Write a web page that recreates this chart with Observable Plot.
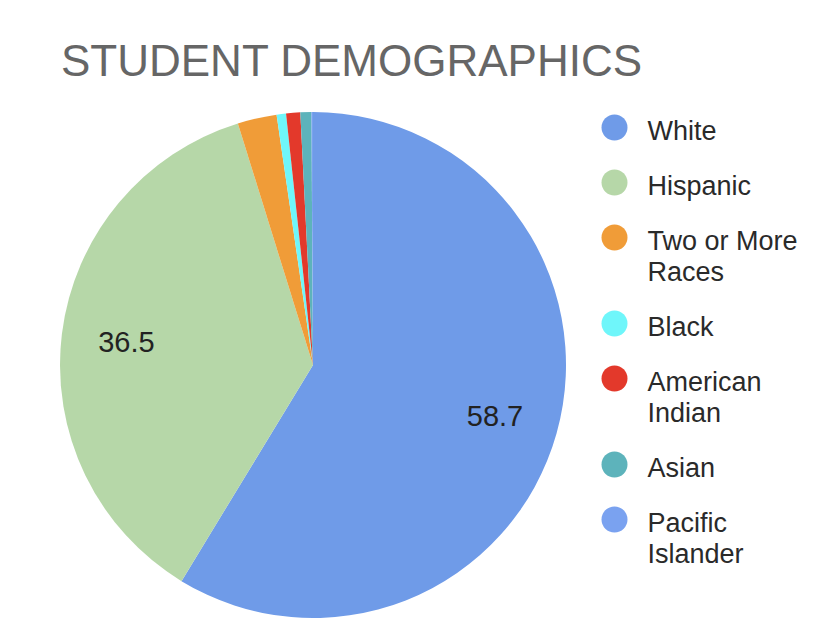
<!DOCTYPE html>
<html>
<head>
<meta charset="utf-8">
<script src="https://cdn.jsdelivr.net/npm/d3@7"></script>
<script src="https://cdn.jsdelivr.net/npm/@observablehq/plot@0.6"></script>
<style>
  html, body { margin: 0; padding: 0; background: #fff; }
  body { width: 828px; height: 636px; overflow: hidden; font-family: "Liberation Sans", Arial, sans-serif; }
  #title {
    height: 90px; box-sizing: border-box; padding-top: 39px; padding-left: 61px;
    font-size: 44px; line-height: 44px; color: #666; white-space: nowrap; overflow: visible;
  }
  #chart svg { display: block; }
</style>
</head>
<body>
<div id="title">STUDENT DEMOGRAPHICS</div>
<div id="chart"></div>
<script>
// ---- data ----
const categories = ["White", "Hispanic", "Two or More Races", "Black", "American Indian", "Asian", "Pacific Islander"];
const percents = [58.7, 36.5, 2.5, 0.6, 0.9, 0.7, 0.1];
const legendLabels = ["White", "Hispanic", "Two or More\nRaces", "Black", "American\nIndian", "Asian", "Pacific\nIslander"];
const colors = ["#6f9be8", "#b6d7a8", "#f09c38", "#6ff6fa", "#e3392b", "#5db3bb", "#7aa2f0"];

// ---- layout ----
const W = 828, H = 546;
const cx = 313, cy = 275, R = 253;
const labelRatio = 0.745;
const legendX = 614, legendTextX = 647, legendTop = 37;
const itemGap = 55, lineStep = 31;
const legendFont = 27;
const font = "'Liberation Sans', Arial, sans-serif";

const data = categories.map((c, i) => ({category: c, value: percents[i], legend: legendLabels[i]}));
const arcs = d3.pie().sort(null).value(d => d.value)(data);

// pie labels (only big slices)
const labelArc = d3.arc().innerRadius(R * labelRatio).outerRadius(R * labelRatio);
const labels = arcs.filter(a => a.data.value >= 5).map(a => {
  const [dx, dy] = labelArc.centroid(a);
  return {x: cx + dx, y: cy + dy, text: a.data.value.toFixed(1)};
});

// legend rows
let yy = legendTop;
const legendRows = data.map(d => {
  const row = {...d, y: yy};
  yy += itemGap + (d.legend.split("\n").length - 1) * lineStep;
  return row;
});

function pieMark(index, scales) {
  const g = d3.create("svg:g");
  const px = scales.x(cx), py = scales.y(cy);
  const r = scales.x(cx + R) - scales.x(cx);
  const arc = d3.arc().innerRadius(0).outerRadius(r);
  g.attr("transform", `translate(${px},${py})`)
    .selectAll("path")
    .data(arcs)
    .join("path")
    .attr("d", arc)
    .attr("fill", a => scales.color(a.data.category));
  return g.node();
}

const chart = Plot.plot({
  width: W,
  height: H,
  margin: 0,
  style: {fontFamily: font, background: "#fff"},
  x: {domain: [0, W], range: [0, W], axis: null},
  y: {domain: [0, H], range: [0, H], axis: null},
  color: {type: "ordinal", domain: categories, range: colors},
  marks: [
    pieMark,
    Plot.text(labels, {x: "x", y: "y", text: "text", fontSize: 29, fill: "#222", fontFamily: font}),
    Plot.dot(legendRows, {x: () => legendX, y: "y", r: 13, fill: "category", stroke: null}),
    Plot.text(legendRows, {
      x: () => legendTextX, y: "y", text: "legend", textAnchor: "start",
      lineAnchor: "top", dy: -10, lineHeight: lineStep / legendFont,
      fontSize: legendFont, fill: "#2a2a2a", fontFamily: font
    })
  ]
});
document.getElementById("chart").appendChild(chart);
</script>
</body>
</html>
